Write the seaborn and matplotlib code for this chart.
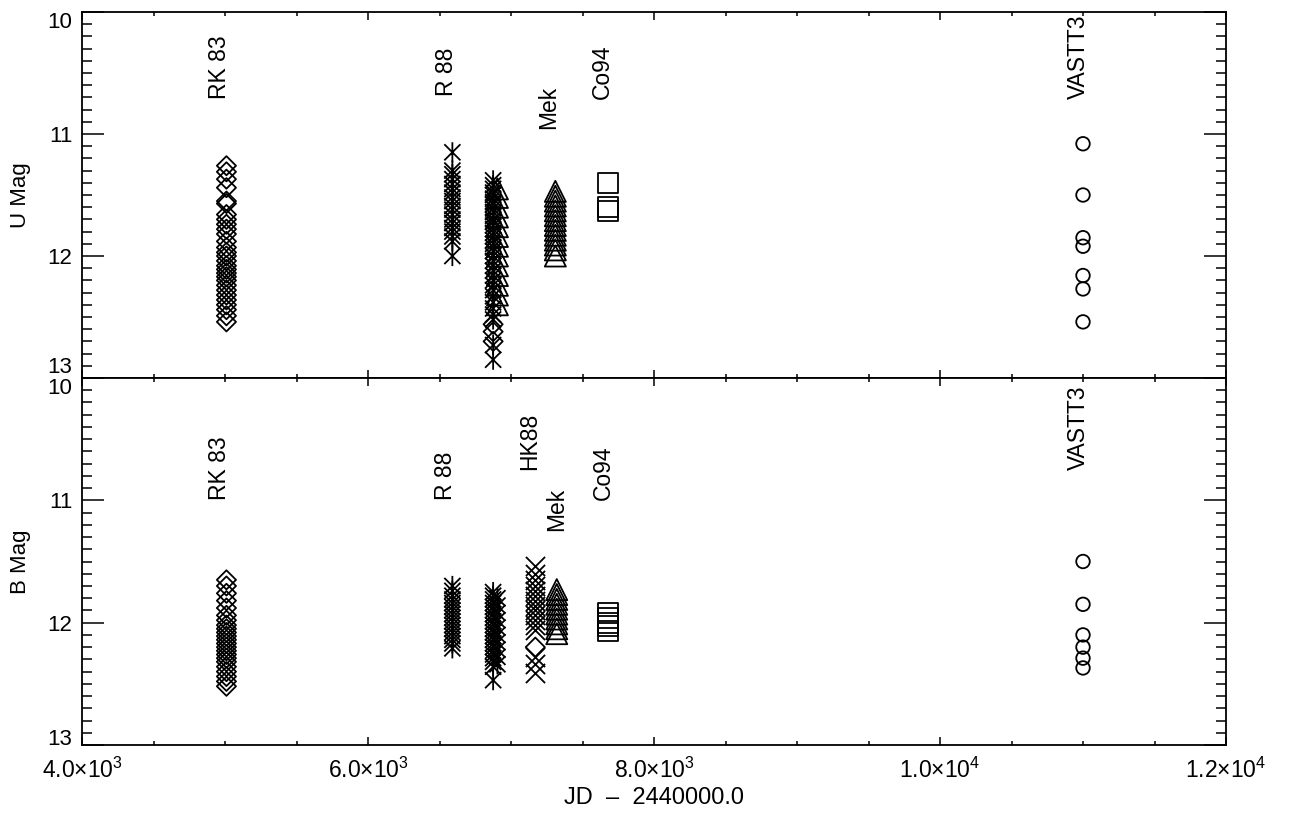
import numpy as np
import pandas as pd
import matplotlib
matplotlib.use("Agg")
import matplotlib.pyplot as plt
import seaborn as sns
from matplotlib.path import Path
from matplotlib.ticker import MultipleLocator, FixedLocator, FixedFormatter

# ---------------- data ----------------
# U band
u_rk83_jd = 5010
u_rk83_mag = [11.26, 11.31, 11.37, 11.44, 11.55, 11.57, 11.66, 11.70, 11.74, 11.78,
              11.82, 11.88, 11.93, 11.97, 12.00, 12.04, 12.08, 12.11, 12.14, 12.17,
              12.20, 12.24, 12.28, 12.32, 12.36, 12.40, 12.44, 12.49, 12.54]
u_r88a_jd = 6590
u_r88a_mag = [11.15, 11.30, 11.33, 11.37, 11.41, 11.45, 11.48, 11.52, 11.55, 11.59,
              11.62, 11.66, 11.70, 11.73, 11.77, 11.80, 11.84, 11.88, 12.00]
u_r88b_jd = 6875
u_r88b_mag = [11.38, 11.42, 11.45, 11.48, 11.50, 11.53, 11.56, 11.58, 11.61, 11.64,
              11.67, 11.70, 11.72, 11.75, 11.78, 11.81, 11.84, 11.87, 11.90, 11.93,
              11.96, 12.00, 12.04, 12.08, 12.12, 12.16, 12.20, 12.24, 12.28, 12.33,
              12.38, 12.43, 12.48, 12.52, 12.73, 12.85]
u_tri_b_jd = 6905
u_tri_b_mag = [11.45, 11.52, 11.60, 11.68, 11.76, 11.84, 11.92, 12.00, 12.08, 12.16,
               12.24, 12.32, 12.40]
u_dia_b_jd = 6875
u_dia_b_mag = [12.56, 12.62, 12.70]
u_mek_jd = 7310
u_mek_mag = [11.47, 11.51, 11.55, 11.59, 11.63, 11.67, 11.71, 11.75, 11.79, 11.83,
             11.87, 11.91, 11.95, 12.00]
u_co94_jd = 7680
u_co94_mag = [11.40, 11.60, 11.63]
u_vastt3_jd = 11000
u_vastt3_mag = [11.08, 11.50, 11.85, 11.92, 12.16, 12.27, 12.54]

# B band
b_rk83_jd = 5010
b_rk83_mag = [11.65, 11.70, 11.76, 11.82, 11.88, 11.94, 11.98, 12.02, 12.05, 12.08,
              12.11, 12.14, 12.17, 12.20, 12.23, 12.26, 12.29, 12.32, 12.36, 12.40,
              12.44, 12.48, 12.52]
b_r88a_jd = 6590
b_r88a_mag = [11.70, 11.74, 11.78, 11.81, 11.84, 11.87, 11.90, 11.93, 11.96, 11.99,
              12.02, 12.05, 12.08, 12.11, 12.14, 12.17, 12.21]
b_r88b_jd = 6875
b_r88b_mag = [11.75, 11.78, 11.81, 11.84, 11.87, 11.90, 11.93, 11.96, 11.99, 12.02,
              12.05, 12.08, 12.11, 12.14, 12.17, 12.20, 12.23, 12.26, 12.29, 12.32,
              12.36, 12.47]
b_r88c_jd = 6905
b_r88c_mag = [11.80, 11.86, 11.92, 11.98, 12.04, 12.10, 12.16, 12.22, 12.28, 12.34]
b_hk88_jd = 7170
b_hk88_mag = [11.54, 11.60, 11.65, 11.70, 11.74, 11.78, 11.82, 11.86, 11.90, 11.94,
              11.98, 12.02, 12.06, 12.28, 12.34, 12.41]
b_dia_hk_jd = 7170
b_dia_hk_mag = [12.20]
b_mek_jd = 7320
b_mek_mag = [11.73, 11.77, 11.81, 11.85, 11.89, 11.93, 11.97, 12.01, 12.05, 12.09]
b_co94_jd = 7680
b_co94_mag = [11.92, 11.96, 12.00, 12.03, 12.07]
b_vastt3_jd = 11000
b_vastt3_mag = [11.50, 11.85, 12.10, 12.20, 12.29, 12.37]

# labels of the data sources: (text, jd, mag of the label foot)
u_labels = [("RK 83", 4965, 10.71), ("R 88", 6550, 10.69), ("Mek", 7265, 10.96),
            ("Co94", 7640, 10.71), ("VASTT3", 10965, 10.71)]
b_labels = [("RK 83", 4965, 11.00), ("R 88", 6545, 11.00), ("HK88", 7130, 10.75),
            ("Mek", 7320, 11.25), ("Co94", 7645, 11.00), ("VASTT3", 10965, 10.75)]

xtick_vals = [4000, 6000, 8000, 10000, 12000]
xtick_labels = [r"$\mathregular{4.0{\times}10^{3}}$", r"$\mathregular{6.0{\times}10^{3}}$",
                r"$\mathregular{8.0{\times}10^{3}}$", r"$\mathregular{1.0{\times}10^{4}}$",
                r"$\mathregular{1.2{\times}10^{4}}$"]
ytick_vals = [10, 11, 12, 13]

# ---------------- marker shapes ----------------
asterisk = Path([(0, -1), (0, 1), (-0.8, -0.8), (0.8, 0.8), (-0.8, 0.8), (0.8, -0.8)],
                [Path.MOVETO, Path.LINETO] * 3)
marker_styles = {
    "diamond": dict(marker="D", s=95),
    "asterisk": dict(marker=asterisk, s=210),
    "triangle": dict(marker="^", s=230),
    "square": dict(marker="s", s=210),
    "circle": dict(marker="o", s=95),
    "cross": dict(marker="x", s=190),
}

u_groups = [
    ("diamond", u_rk83_jd, u_rk83_mag),
    ("asterisk", u_r88a_jd, u_r88a_mag),
    ("asterisk", u_r88b_jd, u_r88b_mag),
    ("triangle", u_tri_b_jd, u_tri_b_mag),
    ("diamond", u_dia_b_jd, u_dia_b_mag),
    ("triangle", u_mek_jd, u_mek_mag),
    ("square", u_co94_jd, u_co94_mag),
    ("circle", u_vastt3_jd, u_vastt3_mag),
]
b_groups = [
    ("diamond", b_rk83_jd, b_rk83_mag),
    ("asterisk", b_r88a_jd, b_r88a_mag),
    ("asterisk", b_r88b_jd, b_r88b_mag),
    ("asterisk", b_r88c_jd, b_r88c_mag),
    ("cross", b_hk88_jd, b_hk88_mag),
    ("diamond", b_dia_hk_jd, b_dia_hk_mag),
    ("triangle", b_mek_jd, b_mek_mag),
    ("square", b_co94_jd, b_co94_mag),
    ("circle", b_vastt3_jd, b_vastt3_mag),
]

sns.set_theme(style="white")
plt.rcParams["font.family"] = ["Liberation Sans", "DejaVu Sans"]
plt.rcParams["mathtext.fontset"] = "custom"
plt.rcParams["mathtext.rm"] = "Liberation Sans"
plt.rcParams["text.color"] = "black"
plt.rcParams["axes.labelcolor"] = "black"
plt.rcParams["xtick.color"] = "black"
plt.rcParams["ytick.color"] = "black"

fig = plt.figure(figsize=(12.9, 8.16), dpi=100)
fig.patch.set_facecolor("white")
left, width = 82 / 1290, (1226 - 82) / 1290
ax_u = fig.add_axes([left, 1 - 378 / 816, width, (378 - 12) / 816])
ax_b = fig.add_axes([left, 1 - 745 / 816, width, (745 - 378) / 816])


def draw_panel(ax, groups, labels, ylabel, bottom):
    for kind, jd, mags in groups:
        df = pd.DataFrame({"jd": [jd] * len(mags), "mag": mags})
        st = marker_styles[kind]
        if kind == "cross":
            sns.scatterplot(data=df, x="jd", y="mag", marker=st["marker"], s=st["s"],
                            color="black", linewidth=1.3, ax=ax, legend=False, zorder=3)
        else:
            sns.scatterplot(data=df, x="jd", y="mag", marker=st["marker"], s=st["s"],
                            facecolor="none", edgecolor="black", linewidth=1.3,
                            ax=ax, legend=False, zorder=3)
    for text, jd, mag in labels:
        ax.text(jd, mag, text, rotation=90, ha="center", va="bottom", fontsize=16.5,
                color="black")
    ax.set_xlim(4000, 12000)
    ax.set_ylim(13, 10)
    ax.yaxis.set_major_locator(FixedLocator(ytick_vals))
    ax.yaxis.set_major_formatter(FixedFormatter([str(v) for v in ytick_vals]))
    ax.yaxis.set_minor_locator(MultipleLocator(0.1))
    ax.xaxis.set_major_locator(FixedLocator(xtick_vals))
    ax.xaxis.set_minor_locator(MultipleLocator(500))
    ax.tick_params(axis="y", which="major", direction="in", length=16, width=1.1,
                   left=True, right=True, labelsize=16, pad=7)
    ax.tick_params(axis="y", which="minor", direction="in", length=7.5, width=1.1,
                   left=True, right=True)
    ax.tick_params(axis="x", which="major", direction="in", length=6, width=1.1,
                   top=True, bottom=True, labelsize=16.5, pad=9)
    ax.tick_params(axis="x", which="minor", direction="in", length=3, width=1.1,
                   top=True, bottom=True)
    if bottom:
        ax.xaxis.set_major_formatter(FixedFormatter(xtick_labels))
        ax.set_xlabel("JD  \u2013  2440000.0", fontsize=17, labelpad=3)
    else:
        ax.set_xticklabels([])
        ax.set_xlabel("")
    ax.set_ylabel(ylabel, fontsize=16, labelpad=12)
    for sp in ax.spines.values():
        sp.set_visible(True)
        sp.set_color("black")
        sp.set_linewidth(1.3)
    ax.set_facecolor("white")


draw_panel(ax_u, u_groups, u_labels, "U Mag", bottom=False)
draw_panel(ax_b, b_groups, b_labels, "B Mag", bottom=True)

# stagger the tick labels at the panel joints as in the original
u_ticks = ax_u.yaxis.get_major_ticks()
u_ticks[0].label1.set_verticalalignment("top")
u_ticks[-1].label1.set_verticalalignment("bottom")
b_ticks = ax_b.yaxis.get_major_ticks()
b_ticks[0].label1.set_verticalalignment("top")
b_ticks[-1].label1.set_verticalalignment("baseline")

fig.savefig("out.png", dpi=100, facecolor="white")
